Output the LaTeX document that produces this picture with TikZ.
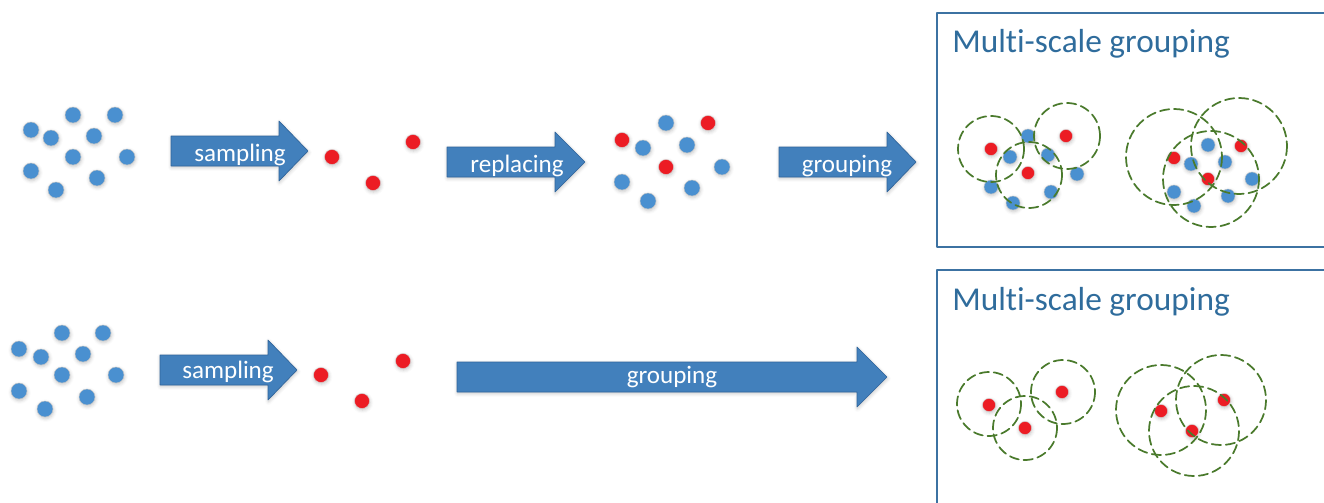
\documentclass[tikz,border=0pt]{standalone}
\usepackage{fontspec}
\setmainfont{Carlito}[RawFeature={-liga;-clig;-calt;-dlig}]
\usetikzlibrary{shadows.blur}

\definecolor{dotblue}{HTML}{4A90D0}
\definecolor{dotred}{HTML}{EC1C24}
\definecolor{arrowblue}{HTML}{4280BC}
\definecolor{arrowedge}{HTML}{30649A}
\definecolor{boxblue}{HTML}{3C72A2}
\definecolor{titleblue}{HTML}{2F6C9C}
\definecolor{ringgreen}{HTML}{4A7A2C}

\tikzset{
	softshadow/.style={blur shadow={shadow xshift=0.4pt, shadow yshift=-1.2pt, shadow blur radius=2.5pt, shadow opacity=22}},
	bdot/.style={fill=dotblue, draw=gray!45, line width=0.3pt, softshadow},
	rdot/.style={fill=dotred, draw=gray!35, line width=0.3pt, softshadow},
	arrowshape/.style={fill=arrowblue, draw=arrowedge, line width=0.5pt, softshadow},
	arrowtext/.style={text=white, font=\fontsize{18.8}{21}\selectfont, anchor=base, inner sep=0pt},
	boxtitle/.style={text=titleblue, font=\fontsize{25}{29}\selectfont, anchor=base west, inner sep=0pt},
	frame/.style={draw=boxblue, line width=1.5pt},
	ring/.style={draw=ringgreen, line width=1.3pt, dash pattern=on 7pt off 3.6pt}
}

\begin{document}
\begin{tikzpicture}[x=0.75pt, y=-0.75pt, line join=round, line cap=round]
	\useasboundingbox (0,0) rectangle (1324,503);
	\def\blockarrow#1#2#3#4{\draw[arrowshape] (#1,#4-15) -- (#2,#4-15) -- (#2,#4-30) -- (#3,#4) -- (#2,#4+30) -- (#2,#4+15) -- (#1,#4+15) -- cycle;}

	% upper row
	\foreach \x/\y in {31/130, 51/138, 73/115, 115/115, 94/136, 73/157, 127/157, 31/171, 56/190, 97/178}
		\draw[bdot] (\x,\y) circle (8);
	\blockarrow{171}{279}{308}{151}
	\node[arrowtext] (sampleA) at (240,161) {sampling};
	\foreach \x/\y in {332/157, 413/142, 373/183}
		\draw[rdot] (\x,\y) circle (7.5);
	\blockarrow{447}{555}{585}{162}
	\node[arrowtext] (replace) at (517,172) {replacing};
	\foreach \x/\y in {666/123, 643/148, 687/145, 722/167, 622/182, 692/188, 648/201}
		\draw[bdot] (\x,\y) circle (8);
	\foreach \x/\y in {622/140, 708/123, 666/167}
		\draw[rdot] (\x,\y) circle (7.5);
	\blockarrow{779}{887}{916}{162}
	\node[arrowtext] (groupA) at (847,172) {grouping};

	\draw[frame] (1330,13) -- (937,13) -- (937,247) -- (1330,247);
	\node[boxtitle] (titleA) at (952,53) {Multi-scale grouping};
	\foreach \x/\y in {1028/136, 1010/157, 1048/155, 1077/174, 991/187, 1013/203, 1051/192,
		1208/145, 1191/164, 1225/162, 1252/179, 1174/192, 1194/206, 1228/196}
		\draw[bdot] (\x,\y) circle (7);
	\foreach \x/\y in {991/149, 1066/136, 1028/173, 1174/158, 1241/146, 1208/179}
		\draw[rdot] (\x,\y) circle (6.5);
	\foreach \x/\y in {991/149, 1067/136, 1029/175}
		\draw[ring] (\x,\y) circle (33);
	\foreach \x/\y in {1174/157, 1239/146, 1211/179}
		\draw[ring] (\x,\y) circle (48);

	% lower row
	\foreach \x/\y in {19/349, 41/357, 62/333, 103/333, 83/354, 62/375, 116/375, 19/391, 45/409, 87/397}
		\draw[bdot] (\x,\y) circle (8);
	\blockarrow{160}{268}{297}{370}
	\node[arrowtext] (sampleB) at (228,378) {sampling};
	\foreach \x/\y in {321/375, 403/361, 362/401}
		\draw[rdot] (\x,\y) circle (7.5);
	\blockarrow{457}{857}{887}{377}
	\node[arrowtext] (groupB) at (672,383) {grouping};

	\draw[frame] (1330,270) -- (937,270) -- (937,510);
	\node[boxtitle] (titleB) at (952,310) {Multi-scale grouping};
	\foreach \x/\y in {989/405, 1062/392, 1025/428, 1161/411, 1224/400, 1192/431}
		\draw[rdot] (\x,\y) circle (6.5);
	\foreach \x/\y in {989/404, 1063/392, 1025/428}
		\draw[ring] (\x,\y) circle (32);
	\foreach \x/\y in {1161/410, 1221/400, 1194/431}
		\draw[ring] (\x,\y) circle (45);
\end{tikzpicture}
\end{document}
